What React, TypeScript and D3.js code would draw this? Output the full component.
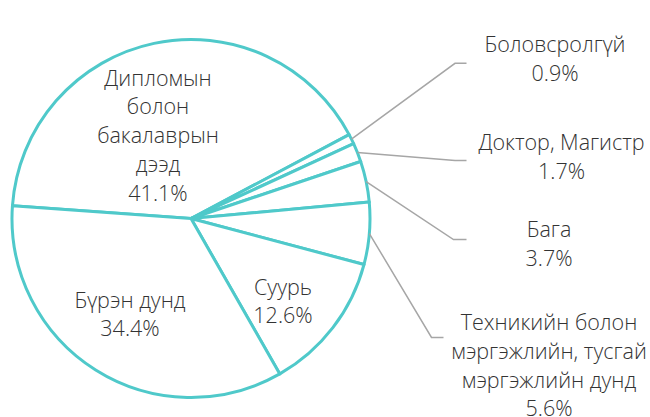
import React from "react";
import * as d3 from "d3";

const categories = [
  "Дипломын болон бакалаврын дээд",
  "Боловсролгүй",
  "Доктор, Магистр",
  "Бага",
  "Техникийн болон мэргэжлийн, тусгай мэргэжлийн дунд",
  "Суурь",
  "Бүрэн дунд",
];
const values = [41.1, 0.9, 1.7, 3.7, 5.6, 12.6, 34.4];
const labelLines = [
  ["Дипломын", "болон", "бакалаврын", "дээд", "41.1%"],
  ["Боловсролгүй", "0.9%"],
  ["Доктор, Магистр", "1.7%"],
  ["Бага", "3.7%"],
  ["Техникийн болон", "мэргэжлийн, тусгай", "мэргэжлийн дунд", "5.6%"],
  ["Суурь", "12.6%"],
  ["Бүрэн дунд", "34.4%"],
];

// layout (not data)
const W = 650, H = 417;
const cx = 191, cy = 218.5, R = 179;
const LH = 28.8;
// inside labels: [dx, dy of first baseline relative to center]
const inside: Record<number, [number, number]> = {
  0: [-33, -133],
  5: [92, 76],
  6: [-61, 89],
};
// outside labels: elbow point, text center x, first baseline y
const outside: Record<number, { ex: number; ey: number; tx: number; ty: number; hx: number }> = {
  1: { ex: 455, ey: 63.3, hx: 466.5, tx: 555, ty: 52 },
  2: { ex: 455, ey: 160.5, hx: 466.5, tx: 561.5, ty: 150 },
  3: { ex: 453.5, ey: 239.5, hx: 466.5, tx: 549, ty: 237 },
  4: { ex: 431.5, ey: 337.5, hx: 443.5, tx: 549, ty: 330 },
};

export default function App() {
  const pie = d3
    .pie<number>()
    .sort(null)
    .startAngle((-85.9 * Math.PI) / 180)
    .endAngle((274.1 * Math.PI) / 180)
    .value((d) => d);
  const arcs = pie(values);
  const arcGen = d3.arc<d3.PieArcDatum<number>>().innerRadius(0).outerRadius(R);
  const font = "'Open Sans', 'Segoe UI', sans-serif";
  return (
    <svg
      width={W}
      height={H}
      style={{ position: "absolute", left: 0, top: 0, background: "#fff" }}
    >
      <g transform={`translate(${cx},${cy})`}>
        {arcs.map((a, i) => (
          <path
            key={categories[i]}
            d={arcGen(a) || ""}
            fill="#ffffff"
            stroke="#4FC9CA"
            strokeWidth={3}
            strokeLinejoin="round"
          />
        ))}
      </g>
      {arcs.map((a, i) => {
        const o = outside[i];
        if (!o) return null;
        const mid = (a.startAngle + a.endAngle) / 2;
        const sx = cx + R * Math.sin(mid);
        const sy = cy - R * Math.cos(mid);
        return (
          <polyline
            key={"l" + i}
            points={`${sx},${sy} ${o.ex},${o.ey} ${o.hx},${o.ey}`}
            fill="none"
            stroke="#A6A6A6"
            strokeWidth={1.5}
          />
        );
      })}
      {labelLines.map((lines, i) => {
        let x: number, y: number;
        if (inside[i]) {
          x = cx + inside[i][0];
          y = cy + inside[i][1];
        } else {
          x = outside[i].tx;
          y = outside[i].ty;
        }
        return (
          <text
            key={"t" + i}
            x={x}
            y={y}
            textAnchor="middle"
            fontFamily={font}
            fontWeight={300}
            fontSize={21.5}
            fill="#333333"
          >
            {lines.map((ln, j) => (
              <tspan key={j} x={x} y={y + j * LH}>
                {ln}
              </tspan>
            ))}
          </text>
        );
      })}
    </svg>
  );
}
